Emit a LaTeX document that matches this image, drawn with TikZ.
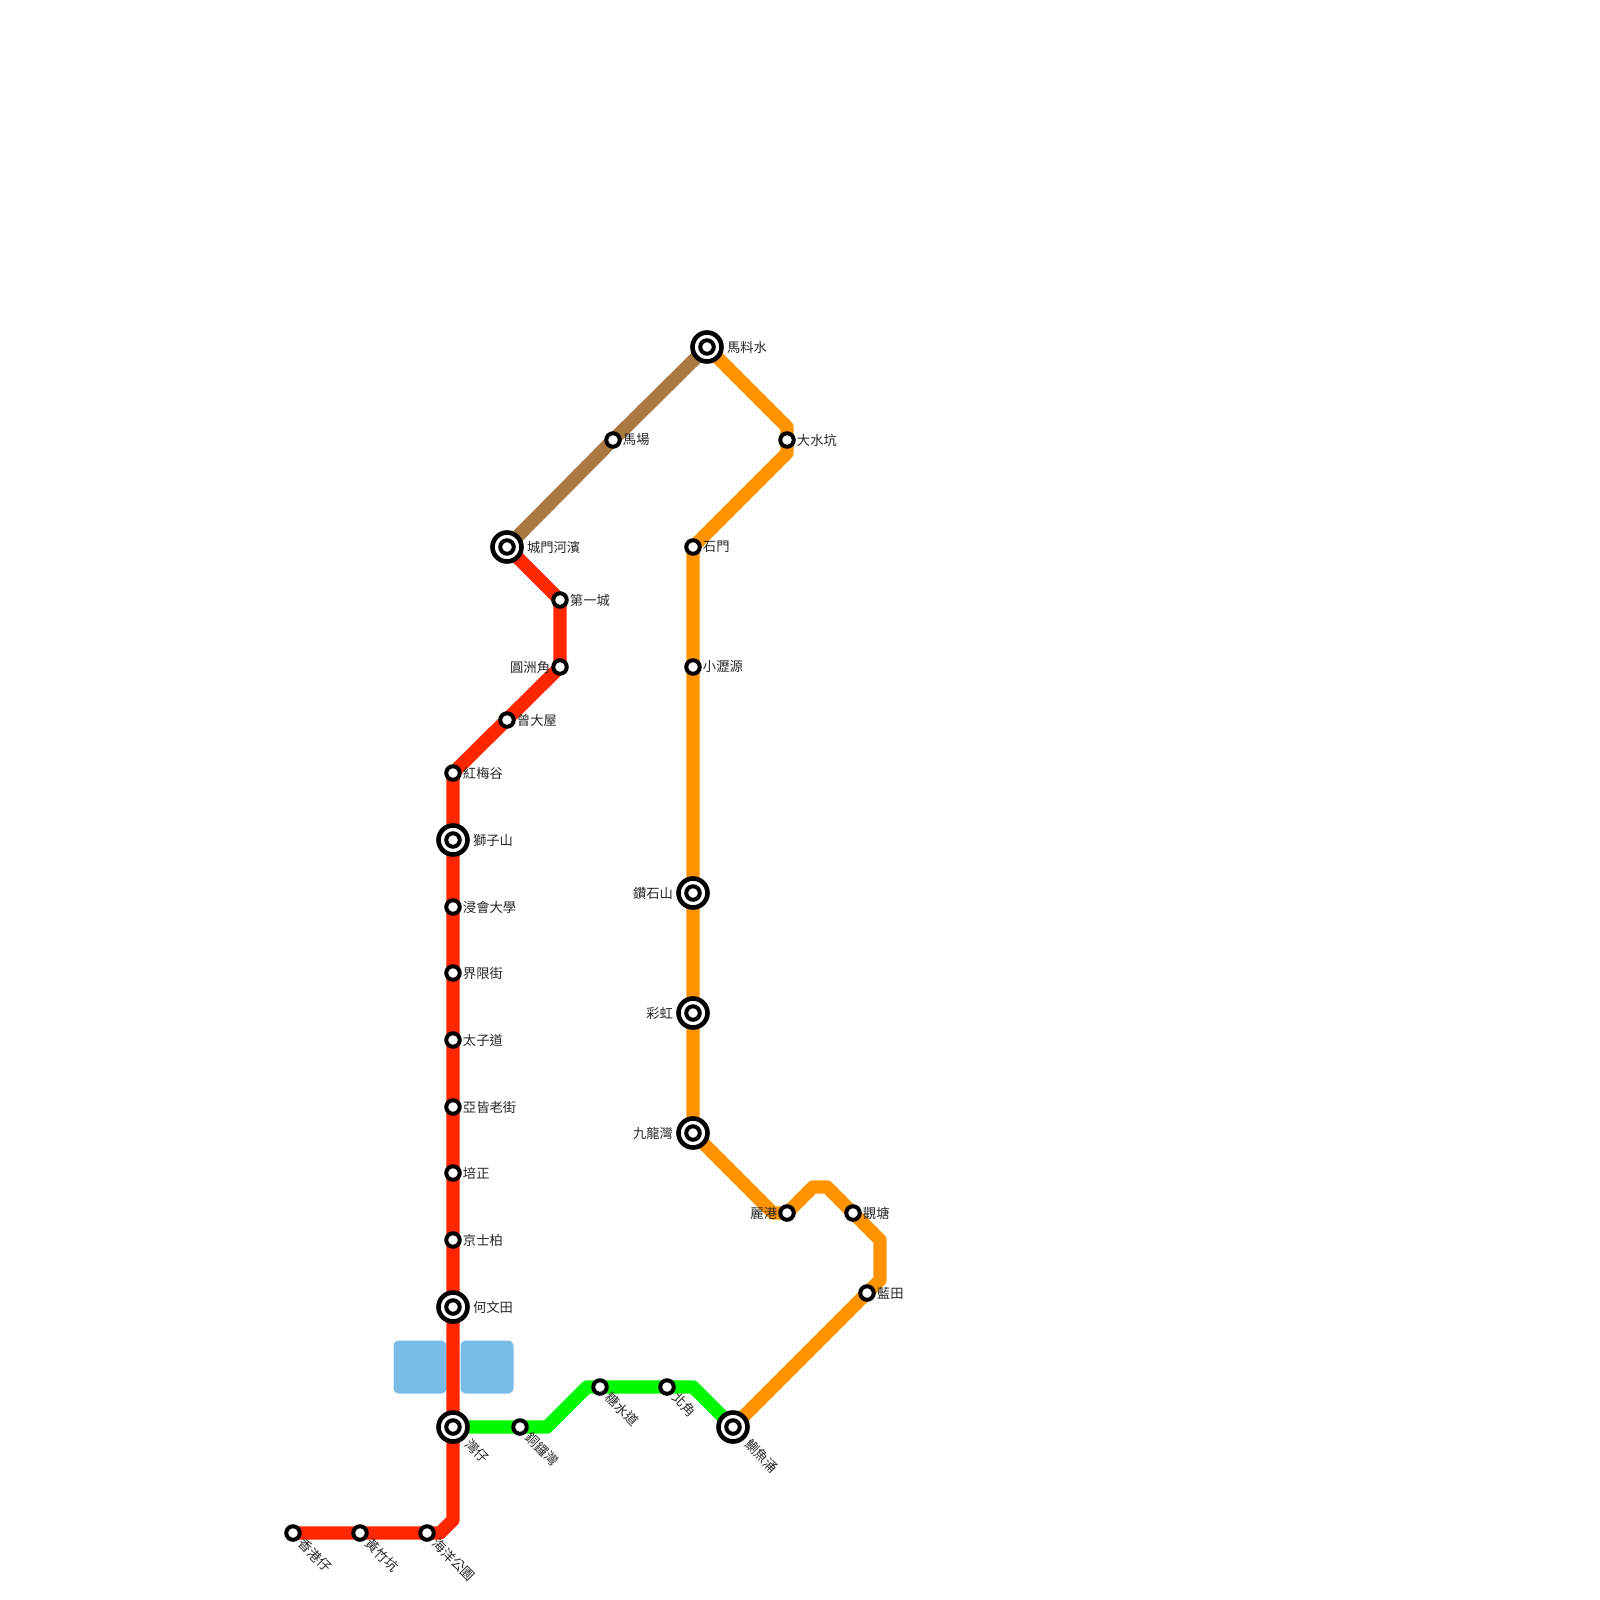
\documentclass[tikz,border=0pt]{standalone}
\usepackage{fontspec}
\setmainfont{Noto Sans CJK TC}
\usetikzlibrary{positioning,backgrounds}
\definecolor{redline}{HTML}{FF2600}
\definecolor{greenline}{HTML}{00F900}
\definecolor{orangeline}{HTML}{FF9300}
\definecolor{brownline}{HTML}{AA7942}
\definecolor{bayblue}{HTML}{79BCE8}

\begin{document}
\begin{tikzpicture}[
  x=1pt,y=-1pt,
  font=\fontsize{13.3pt}{14pt}\selectfont,
  stn/.style={circle,draw=black,fill=white,line width=4pt,minimum size=13.5pt,inner sep=0pt},
  hub/.style={circle,draw=black,fill=white,line width=4.6pt,minimum size=29pt,inner sep=0pt,label={[stn,anchor=center]center:{}}},
  txt/.style={inner sep=0pt,text=black!85},
  rot/.style={txt,shift={(#1,-#1)},rotate=-45,anchor=west},
  rail/.style={line width=13.3pt,line join=round},
  bay/.style={fill=bayblue,rounded corners=5pt,minimum size=53pt,inner sep=0pt}
]
\useasboundingbox (0,0) rectangle (1600,1600);

% red line stations
\node[stn] (aberdeen) at (293,1533) {};
\node[stn] (wongchuk) at (360,1533) {};
\node[stn] (oceanpark) at (427,1533) {};
\node[hub] (wanchai) at (453,1427) {};
\node[hub] (homantin) at (453,1307) {};
\node[stn] (kingspark) at (453,1240) {};
\node[stn] (puiching) at (453,1173) {};
\node[stn] (argyle) at (453,1107) {};
\node[stn] (prince) at (453,1040) {};
\node[stn] (boundary) at (453,973) {};
\node[stn] (baptist) at (453,907) {};
\node[hub] (lionrock) at (453,840) {};
\node[stn] (hungmui) at (453,773) {};
\node[stn] (tsangtai) at (507,720) {};
\node[stn] (yuenchau) at (560,667) {};
\node[stn] (cityone) at (560,600) {};
\node[hub] (shingmun) at (507,547) {};

% brown line
\node[stn] (racecourse) at (613,440) {};
\node[hub] (maliu) at (707,347) {};

% orange line
\node[stn] (taishui) at (787,440) {};
\node[stn] (shekmun) at (693,547) {};
\node[stn] (siulek) at (693,667) {};
\node[hub] (diamond) at (693,893) {};
\node[hub] (rainbow) at (693,1013) {};
\node[hub] (kowloonbay) at (693,1133) {};
\node[stn] (laikong) at (787,1213) {};
\node[stn] (kwuntong) at (853,1213) {};
\node[stn] (lamtin) at (867,1293) {};
\node[hub] (quarry) at (733,1427) {};

% green line
\node[stn] (causeway) at (520,1427) {};
\node[stn] (tongshui) at (600,1387) {};
\node[stn] (northpt) at (667,1387) {};

% bends
\coordinate (redA) at (453,1520);
\coordinate (redB) at (440,1533);
\coordinate (grnA) at (547,1427);
\coordinate (grnB) at (587,1387);
\coordinate (grnC) at (693,1387);
\coordinate (orgA) at (787,427);
\coordinate (orgB) at (787,453);
\coordinate (orgC) at (773,1213);
\coordinate (orgD) at (813,1187);
\coordinate (orgE) at (827,1187);
\coordinate (orgF) at (880,1240);
\coordinate (orgG) at (880,1280);

\begin{scope}[on background layer]
\node[bay] (bayW) at (420,1367) {};
\node[bay] (bayE) at (487,1367) {};
\draw[rail,brownline] (shingmun.center) -- (racecourse.center) -- (maliu.center);
\draw[rail,orangeline] (maliu.center) -- (orgA) -- (orgB) -- (shekmun.center) -- (kowloonbay.center) -- (orgC) -- (laikong.center) -- (orgD) -- (orgE) -- (orgF) -- (orgG) -- (quarry.center);
\draw[rail,greenline] (wanchai.center) -- (grnA) -- (grnB) -- (grnC) -- (quarry.center);
\draw[rail,redline] (shingmun.center) -- (cityone.center) -- (yuenchau.center) -- (hungmui.center) -- (redA) -- (redB) -- (aberdeen.center);
\end{scope}

% labels
\node[rot=8pt] (aberdeenT) at (aberdeen) {香港仔};
\node[rot=8pt] (wongchukT) at (wongchuk) {黃竹坑};
\node[rot=8pt] (oceanparkT) at (oceanpark) {海洋公園};
\node[rot=14.5pt] (wanchaiT) at (wanchai) {灣仔};
\node[rot=8pt] (causewayT) at (causeway) {銅鑼灣};
\node[rot=8pt] (tongshuiT) at (tongshui) {糖水道};
\node[rot=8pt] (northptT) at (northpt) {北角};
\node[rot=14.5pt] (quarryT) at (quarry) {鰂魚涌};
\node[txt,right=3pt of homantin] (homantinT) {何文田};
\node[txt,right=1pt of kingspark] (kingsparkT) {京士柏};
\node[txt,right=1pt of puiching] (puichingT) {培正};
\node[txt,right=1pt of argyle] (argyleT) {亞皆老街};
\node[txt,right=1pt of prince] (princeT) {太子道};
\node[txt,right=1pt of boundary] (boundaryT) {界限街};
\node[txt,right=1pt of baptist] (baptistT) {浸會大學};
\node[txt,right=3pt of lionrock] (lionrockT) {獅子山};
\node[txt,right=1pt of hungmui] (hungmuiT) {紅梅谷};
\node[txt,right=1pt of tsangtai] (tsangtaiT) {曾大屋};
\node[txt,left=1pt of yuenchau] (yuenchauT) {圓洲角};
\node[txt,right=1pt of cityone] (cityoneT) {第一城};
\node[txt,right=3pt of shingmun] (shingmunT) {城門河濱};
\node[txt,right=1pt of racecourse] (racecourseT) {馬場};
\node[txt,right=3pt of maliu] (maliuT) {馬料水};
\node[txt,right=1pt of taishui] (taishuiT) {大水坑};
\node[txt,right=1pt of shekmun] (shekmunT) {石門};
\node[txt,right=1pt of siulek] (siulekT) {小瀝源};
\node[txt,left=3pt of diamond] (diamondT) {鑽石山};
\node[txt,left=3pt of rainbow] (rainbowT) {彩虹};
\node[txt,left=3pt of kowloonbay] (kowloonbayT) {九龍灣};
\node[txt,left=1pt of laikong] (laikongT) {麗港};
\node[txt,right=1pt of kwuntong] (kwuntongT) {觀塘};
\node[txt,right=1pt of lamtin] (lamtinT) {藍田};
\end{tikzpicture}
\end{document}
